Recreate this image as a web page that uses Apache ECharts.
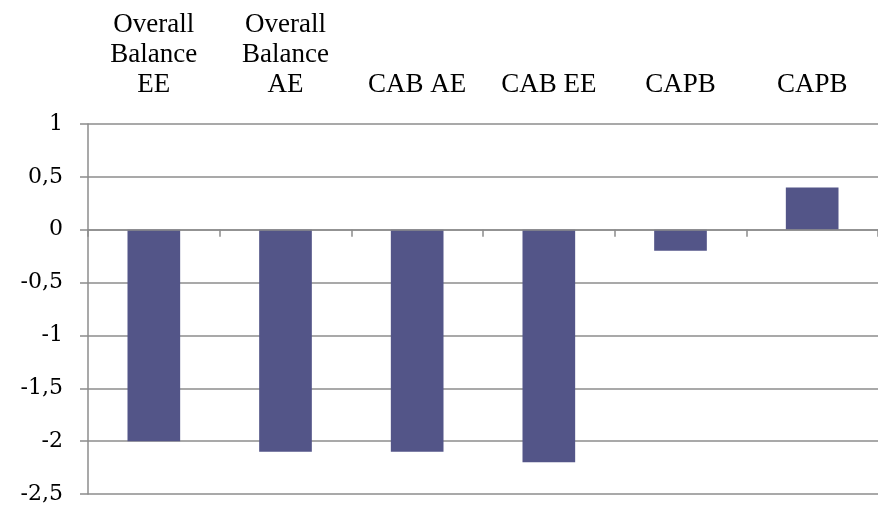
<!DOCTYPE html>
<html>
<head>
<meta charset="utf-8">
<script src="https://cdn.jsdelivr.net/npm/echarts@6/dist/echarts.min.js"></script>
<style>html,body{margin:0;padding:0;background:#fff}#c{width:878px;height:508px}</style>
</head>
<body>
<div id="c"></div>
<script>
var categories = ['Overall\nBalance\nEE', 'Overall\nBalance\nAE', 'CAB AE', 'CAB EE', 'CAPB', 'CAPB'];
var values = [-2, -2.1, -2.1, -2.2, -0.2, 0.4];
var yMin = -2.5, yMax = 1, yStep = 0.5;

var chart = echarts.init(document.getElementById('c'), null, {renderer: 'canvas'});
var gridColor = '#8c8c8c';
chart.setOption({
  animation: false,
  backgroundColor: '#fff',
  grid: {left: 88, top: 124, width: 799, height: 370, containLabel: false},
  xAxis: [
    {
      type: 'category', data: categories, position: 'bottom', z: 10,
      axisLine: {show: true, onZero: true, lineStyle: {color: gridColor, width: 1.5}},
      axisTick: {show: true, length: 7, inside: false, lineStyle: {color: gridColor, width: 1.5}},
      axisLabel: {show: false},
      splitLine: {show: false}
    },
    {
      type: 'category', data: categories, position: 'top',
      axisLine: {show: false}, axisTick: {show: false},
      axisLabel: {show: true, margin: 24, color: '#000', fontFamily: 'Liberation Serif', fontSize: 27, lineHeight: 30, interval: 0}
    }
  ],
  yAxis: {
    type: 'value', min: yMin, max: yMax, interval: yStep,
    axisLine: {show: true, lineStyle: {color: gridColor, width: 1.5}},
    axisTick: {show: true, length: 8, lineStyle: {color: gridColor, width: 1.5}},
    splitLine: {show: true, lineStyle: {color: gridColor, width: 1.5}},
    axisLabel: {
      margin: 25, color: '#000', fontFamily: 'DejaVu Serif', fontSize: 22, padding: [6, 0, 0, 0],
      formatter: function (v) { return String(Math.round(v * 10) / 10).replace('.', ','); }
    }
  },
  series: [{
    type: 'bar', data: values, xAxisIndex: 0, barWidth: '40%',
    itemStyle: {color: '#535588'}
  }]
});
</script>
</body>
</html>
